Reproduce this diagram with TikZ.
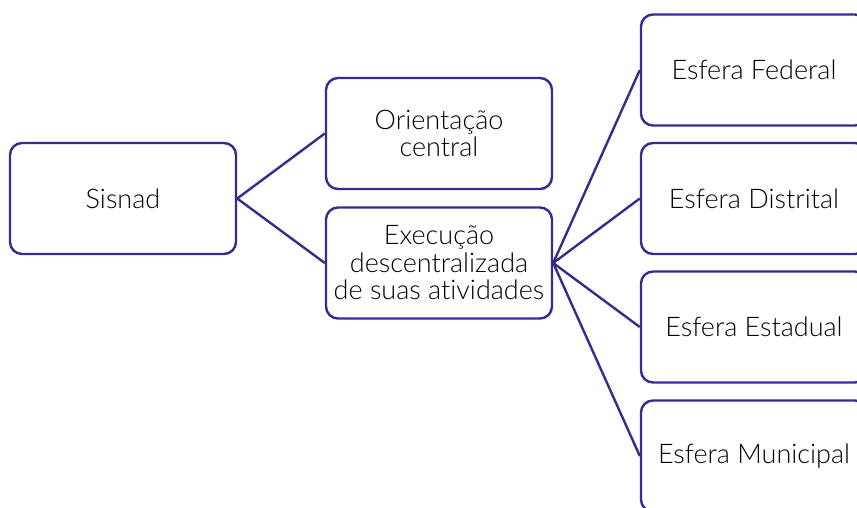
\documentclass[tikz,border=0pt]{standalone}
\usepackage{fontspec}
\setmainfont{Lato Light}[Ligatures=NoCommon]
\definecolor{boxline}{HTML}{3B2A8E}
\begin{document}
\begin{tikzpicture}[x=1pt,y=-1pt,
  box/.style={draw=boxline, line width=2.4pt, rounded corners=12pt, fill=white,
    minimum width=226pt, minimum height=111pt, inner sep=0pt, align=center,
    font=\fontsize{27}{27.5}\selectfont},
  link/.style={draw=boxline, line width=2.4pt}]
\useasboundingbox (0,0) rectangle (857,507);
\clip (0,0) rectangle (857,507);
\node[box] (sis) at (123,198.5) {\raisebox{-2pt}{Sisnad}};
\node[box] (ori) at (439,133.5) {Orientação\\central};
\node[box] (exe) at (439,263) {Execução\\descentralizada\\de suas atividades};
\node[box] (fed) at (754,70) {\raisebox{-2pt}{Esfera Federal}};
\node[box] (dis) at (754,198.5) {\raisebox{-2pt}{Esfera Distrital}};
\node[box] (est) at (754,327) {\raisebox{-2pt}{Esfera Estadual}};
\node[box] (mun) at (754,456) {\raisebox{-2pt}{Esfera Municipal}};
\draw[link] (sis.east) -- (ori.west);
\draw[link] (sis.east) -- (exe.west);
\draw[link] (exe.east) -- (fed.west);
\draw[link] (exe.east) -- (dis.west);
\draw[link] (exe.east) -- (est.west);
\draw[link] (exe.east) -- (mun.west);
\end{tikzpicture}
\end{document}
